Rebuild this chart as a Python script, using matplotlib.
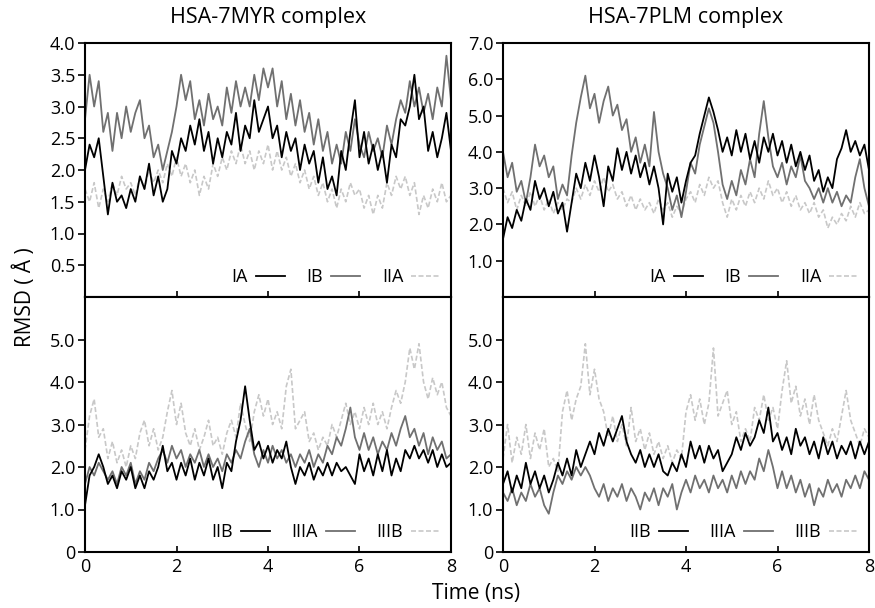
import matplotlib.pyplot as plt
import numpy as np

plt.rcParams['font.family'] = ['Open Sans', 'DejaVu Sans']

# time axis (ns), one reading every 0.1 ns
time_ns = np.round(np.arange(0, 8.01, 0.1), 1)

# HSA-7MYR, top panel
myr_IA = [2.0, 2.4, 2.2, 2.5, 1.9, 1.3, 1.8, 1.5, 1.6, 1.4, 1.7, 1.5, 1.9, 1.7, 2.1, 1.6, 1.9, 1.5, 1.7, 2.3,
          2.1, 2.5, 2.3, 2.7, 2.4, 2.8, 2.3, 2.6, 2.1, 2.5, 2.2, 2.6, 2.4, 2.9, 2.3, 2.7, 2.5, 3.1, 2.6, 2.8,
          3.0, 2.5, 2.7, 2.2, 2.6, 2.3, 2.5, 2.0, 2.4, 2.1, 2.3, 1.8, 2.2, 1.7, 1.9, 1.6, 2.3, 2.0, 2.6, 3.1,
          2.2, 2.6, 2.1, 2.4, 2.0, 2.3, 1.8, 2.4, 2.2, 2.8, 2.7, 3.0, 3.5, 2.8, 3.0, 2.3, 2.6, 2.2, 2.5, 2.9,
          2.3]
myr_IB = [2.8, 3.5, 3.0, 3.4, 2.6, 2.9, 2.3, 2.9, 2.5, 3.0, 2.6, 2.9, 3.1, 2.5, 2.7, 2.2, 2.4, 2.0, 2.3, 2.6,
          3.0, 3.5, 3.1, 3.4, 2.8, 3.1, 2.7, 3.2, 2.8, 3.0, 2.7, 3.3, 2.9, 3.4, 3.0, 3.3, 3.0, 3.5, 3.1, 3.6,
          3.3, 3.6, 3.0, 3.4, 2.8, 3.2, 2.7, 3.1, 2.6, 2.9, 2.4, 2.8, 2.3, 2.6, 2.1, 2.4, 2.1, 2.6, 2.3, 2.8,
          2.4, 2.2, 2.6, 2.3, 2.5, 2.2, 2.7, 2.4, 2.8, 3.1, 2.9, 3.4, 3.0, 3.3, 2.9, 3.2, 2.8, 3.3, 3.0, 3.8,
          3.1]
myr_IIA = [1.7, 1.5, 1.8, 1.4, 1.7, 1.5, 1.8, 1.6, 1.9, 1.7, 1.8, 1.6, 1.9, 1.7, 2.0, 1.8, 2.0, 1.8, 2.1, 1.9,
           2.2, 1.9, 2.1, 1.8, 2.0, 1.6, 1.9, 1.7, 2.1, 1.9, 2.2, 2.0, 2.3, 2.1, 2.4, 2.1, 2.3, 2.0, 2.3, 2.1,
           2.4, 2.0, 2.3, 2.0, 2.2, 1.9, 2.1, 1.8, 2.0, 1.7, 1.9, 1.6, 1.8, 1.5, 1.7, 1.4, 1.7, 1.5, 1.8, 1.6,
           1.7, 1.4, 1.6, 1.3, 1.6, 1.4, 1.8, 1.6, 1.9, 1.7, 1.9, 1.6, 1.8, 1.3, 1.6, 1.4, 1.7, 1.5, 1.8, 1.5,
           1.6]

# HSA-7PLM, top panel
plm_IA = [1.6, 2.2, 1.9, 2.4, 2.1, 2.7, 2.4, 3.2, 2.7, 3.0, 2.5, 2.9, 2.3, 2.6, 1.8, 2.6, 3.4, 3.0, 3.7, 3.2,
          3.9, 3.3, 2.5, 3.6, 3.2, 4.1, 3.5, 4.0, 3.4, 3.9, 3.3, 3.7, 3.1, 3.6, 3.0, 2.0, 3.4, 2.9, 3.3, 2.6,
          3.2, 3.7, 3.9, 4.5, 5.0, 5.5, 5.1, 4.6, 4.0, 4.4, 3.9, 4.6, 4.0, 4.5, 3.8, 4.3, 3.7, 4.4, 4.0, 4.5,
          3.9, 4.3, 3.7, 4.2, 3.6, 4.0, 3.5, 3.9, 3.2, 3.5, 2.9, 3.3, 3.0, 3.8, 4.1, 4.6, 4.0, 4.3, 3.9, 4.2,
          3.5]
plm_IB = [4.0, 3.3, 3.7, 2.9, 3.2, 2.6, 3.3, 4.2, 3.6, 3.9, 3.3, 3.6, 2.7, 3.1, 2.8, 3.9, 4.8, 5.5, 6.1, 5.2,
          5.6, 4.8, 5.4, 5.8, 5.0, 5.3, 4.6, 4.9, 4.0, 4.4, 3.7, 4.2, 3.6, 5.1, 4.0, 3.4, 3.0, 2.4, 2.8, 2.2,
          2.9, 3.7, 3.4, 4.2, 4.7, 5.2, 4.8, 4.0, 3.1, 2.7, 3.2, 2.8, 3.5, 3.1, 3.8, 3.3, 4.5, 5.4, 4.4, 3.6,
          3.3, 3.7, 3.1, 3.6, 3.3, 3.9, 3.2, 3.0, 2.7, 3.0, 2.6, 3.0, 2.6, 2.9, 2.5, 2.8, 2.6, 3.3, 3.8, 3.0,
          2.5]
plm_IIA = [3.0, 2.6, 2.9, 2.4, 2.8, 2.5, 2.9, 2.5, 2.8, 2.4, 2.7, 2.3, 2.6, 2.4, 2.7, 2.6, 3.0, 2.7, 3.1, 2.8,
           3.2, 2.9, 3.3, 2.9, 3.1, 2.7, 2.9, 2.5, 2.8, 2.4, 2.7, 2.4, 2.6, 2.3, 2.7, 2.4, 2.6, 2.2, 2.5, 2.3,
           2.7, 2.9, 2.6, 3.1, 2.8, 3.3, 3.0, 3.2, 2.6, 2.2, 2.7, 2.4, 2.8, 2.5, 2.9, 2.6, 3.0, 2.7, 3.2, 2.8,
           3.0, 2.6, 2.9, 2.5, 2.8, 2.4, 2.6, 2.3, 2.6, 2.2, 2.4, 1.9, 2.2, 2.0, 2.3, 2.1, 2.5, 2.2, 2.6, 2.3,
           2.4]

# HSA-7MYR, bottom panel
myr_IIB = [1.1, 1.8, 2.0, 2.3, 2.0, 1.6, 1.8, 1.5, 1.9, 1.7, 2.0, 1.5, 1.8, 1.5, 1.9, 1.7, 2.0, 2.5, 1.9, 2.1,
           1.7, 2.1, 1.8, 2.2, 1.7, 2.1, 1.8, 2.2, 1.7, 2.0, 1.5, 2.1, 1.9, 2.6, 3.1, 3.9, 3.1, 2.4, 2.6, 2.2,
           2.5, 2.1, 2.4, 2.2, 2.6, 2.0, 1.6, 2.0, 1.8, 2.1, 1.7, 2.0, 1.8, 2.1, 1.8, 2.1, 1.9, 2.0, 1.8, 1.6,
           2.3, 1.9, 2.2, 1.8, 2.3, 1.9, 2.4, 1.8, 2.2, 1.9, 2.4, 2.2, 2.5, 2.2, 2.4, 2.1, 2.4, 2.0, 2.3, 2.0,
           2.1]
myr_IIIA = [1.6, 2.0, 1.8, 2.1, 1.9, 1.7, 1.9, 1.6, 2.0, 1.8, 2.1, 1.6, 1.9, 1.7, 2.1, 1.9, 2.2, 2.4, 2.1, 2.5,
            2.2, 2.4, 2.0, 2.3, 2.1, 2.4, 2.0, 2.3, 2.0, 2.2, 1.9, 2.3, 2.1, 2.4, 2.2, 2.6, 2.9, 2.3, 2.0, 2.4,
            2.1, 2.5, 2.2, 2.4, 2.1, 2.3, 2.0, 2.3, 2.1, 2.4, 2.0, 2.3, 2.1, 2.5, 2.3, 2.7, 2.5, 2.9, 3.4, 2.7,
            2.4, 2.8, 2.4, 2.7, 2.3, 2.6, 2.4, 2.8, 2.5, 2.9, 3.2, 2.7, 2.9, 2.5, 2.8, 2.3, 2.7, 2.4, 2.6, 2.2,
            2.3]
myr_IIIB = [2.4, 3.2, 3.6, 2.7, 2.9, 2.2, 2.6, 2.1, 2.4, 2.0, 2.5, 2.2, 2.8, 3.1, 2.5, 2.9, 2.4, 2.7, 3.3, 3.8,
            3.0, 3.5, 2.8, 2.5, 2.9, 2.4, 2.7, 3.1, 2.5, 2.7, 2.3, 2.8, 3.1, 2.7, 3.5, 3.0, 2.6, 3.3, 3.7, 3.2,
            3.6, 3.0, 3.3, 2.9, 3.9, 4.3, 2.9, 3.1, 3.3, 2.6, 2.8, 2.4, 2.7, 2.5, 3.0, 2.7, 3.1, 3.5, 3.0, 3.3,
            2.9, 3.4, 3.0, 3.5, 3.0, 3.3, 2.9, 3.4, 3.8, 3.5, 4.0, 4.8, 4.3, 4.9, 4.0, 3.6, 4.1, 3.7, 4.0, 3.4,
            3.2]

# HSA-7PLM, bottom panel
plm_IIB = [1.6, 1.9, 1.4, 1.8, 1.5, 2.1, 1.6, 1.9, 1.5, 1.8, 1.4, 1.7, 2.1, 1.8, 2.2, 1.8, 2.4, 2.0, 2.3, 2.6,
           2.3, 2.8, 2.5, 2.9, 2.6, 2.9, 3.2, 2.6, 2.3, 2.1, 2.4, 2.0, 2.3, 2.0, 2.3, 1.9, 1.8, 2.1, 1.9, 2.3,
           2.0, 2.6, 2.2, 2.5, 2.1, 2.5, 2.2, 2.4, 1.9, 2.1, 2.3, 2.7, 2.4, 2.8, 2.5, 2.7, 3.1, 2.8, 3.4, 2.6,
           2.8, 2.4, 2.7, 2.3, 2.9, 2.5, 2.7, 2.3, 2.6, 2.2, 2.7, 2.3, 2.6, 2.2, 2.5, 2.3, 2.6, 2.2, 2.6, 2.3,
           2.6]
plm_IIIA = [1.4, 1.2, 1.5, 1.1, 1.4, 1.2, 1.6, 1.3, 1.5, 1.1, 0.9, 1.4, 1.8, 1.6, 1.9, 1.7, 2.0, 1.8, 2.0, 1.8,
            1.5, 1.3, 1.6, 1.2, 1.5, 1.3, 1.6, 1.2, 1.5, 1.3, 1.0, 1.4, 1.2, 1.5, 1.1, 1.5, 1.3, 1.6, 1.0, 1.4,
            1.7, 1.4, 1.8, 1.5, 1.7, 1.4, 1.8, 1.5, 1.7, 1.4, 1.8, 1.5, 1.9, 1.6, 1.9, 1.7, 2.2, 1.9, 2.4, 2.0,
            1.5, 1.9, 1.5, 1.8, 1.4, 1.7, 1.3, 1.6, 1.1, 1.5, 1.3, 1.7, 1.4, 1.6, 1.3, 1.7, 1.5, 1.8, 1.5, 1.9,
            1.7]
plm_IIIB = [2.2, 3.0, 2.1, 2.7, 2.3, 3.0, 2.2, 2.8, 2.4, 2.9, 2.0, 2.2, 1.9, 3.3, 3.8, 3.1, 3.6, 3.9, 4.9, 3.7,
            4.3, 3.6, 3.3, 2.7, 3.2, 2.6, 3.0, 2.5, 3.4, 2.6, 2.9, 2.4, 2.8, 2.3, 2.6, 2.2, 2.5, 2.1, 2.4, 2.2,
            3.3, 3.7, 3.1, 3.6, 3.0, 3.5, 4.8, 3.2, 3.5, 3.8, 3.0, 3.3, 2.6, 2.9, 2.6, 3.4, 3.1, 3.7, 3.1, 3.4,
            2.9, 3.8, 4.5, 3.5, 3.9, 3.2, 3.6, 3.0, 3.7, 3.1, 2.8, 2.5, 2.9, 2.6, 3.2, 3.8, 3.1, 2.8, 2.5, 2.9,
            2.7]

top_labels = ['IA', 'IB', 'IIA']
bottom_labels = ['IIB', 'IIIA', 'IIIB']
titles = ['HSA-7MYR complex', 'HSA-7PLM complex']

styles = [
    dict(color='black', lw=1.3, ls='-', zorder=3),
    dict(color='#707070', lw=1.3, ls='-', zorder=2),
    dict(color='#c8c8c8', lw=1.2, ls=(0, (3, 1.5)), zorder=1),
]

fig = plt.figure(figsize=(8.75, 6.08), dpi=100)

left_x = [85 / 875, 503 / 875]
width = 366 / 875
top_y0, top_h = 1 - 297 / 608, (297 - 43) / 608
bot_y0, bot_h = 1 - 552 / 608, (552 - 297) / 608

panels = [
    (0, 'top', [myr_IA, myr_IB, myr_IIA], top_labels, 4.0,
     [0.5, 1.0, 1.5, 2.0, 2.5, 3.0, 3.5, 4.0]),
    (1, 'top', [plm_IA, plm_IB, plm_IIA], top_labels, 7.0,
     [1.0, 2.0, 3.0, 4.0, 5.0, 6.0, 7.0]),
    (0, 'bot', [myr_IIB, myr_IIIA, myr_IIIB], bottom_labels, 6.0,
     [0, 1.0, 2.0, 3.0, 4.0, 5.0]),
    (1, 'bot', [plm_IIB, plm_IIIA, plm_IIIB], bottom_labels, 6.0,
     [0, 1.0, 2.0, 3.0, 4.0, 5.0]),
]

for col, row, series, labels, ymax, yticks in panels:
    y0, h = (top_y0, top_h) if row == 'top' else (bot_y0, bot_h)
    ax = fig.add_axes([left_x[col], y0, width, h])
    handles = [None] * 3
    for k in (2, 1, 0):
        ln, = ax.plot(time_ns, series[k], label=labels[k], **styles[k])
        handles[k] = ln
    ax.set_xlim(0, 8)
    ax.set_ylim(0, ymax)
    ax.set_yticks(yticks)
    ax.set_yticklabels(['0' if v == 0 else f'{v:.1f}' for v in yticks])
    ax.set_xticks([0, 2, 4, 6, 8])
    if row == 'top':
        ax.set_xticklabels([])
        fig.text(left_x[col] + width / 2, 1 - 18 / 608, titles[col],
                 ha='center', va='center', fontsize=15.5)
    ax.tick_params(axis='x', direction='in', length=4, width=1.2, labelsize=13, pad=4)
    ax.tick_params(axis='y', direction='out', length=5, width=1.2, labelsize=13, pad=2)
    for sp in ax.spines.values():
        sp.set_linewidth(1.5)
    ax.legend(handles=handles, loc='lower right', ncol=3, frameon=False,
              markerfirst=False, handlelength=1.6, handletextpad=0.45,
              columnspacing=1.2, fontsize=13, borderaxespad=0.2,
              bbox_to_anchor=(1.0, 0.0))

fig.text(25 / 875, 1 - 297 / 608, 'RMSD ( Å )', rotation=90, ha='center', va='center', fontsize=15)
fig.text(476 / 875, 1 - 593 / 608, 'Time (ns)', ha='center', va='center', fontsize=15)

fig.savefig('out.png', dpi=100)
